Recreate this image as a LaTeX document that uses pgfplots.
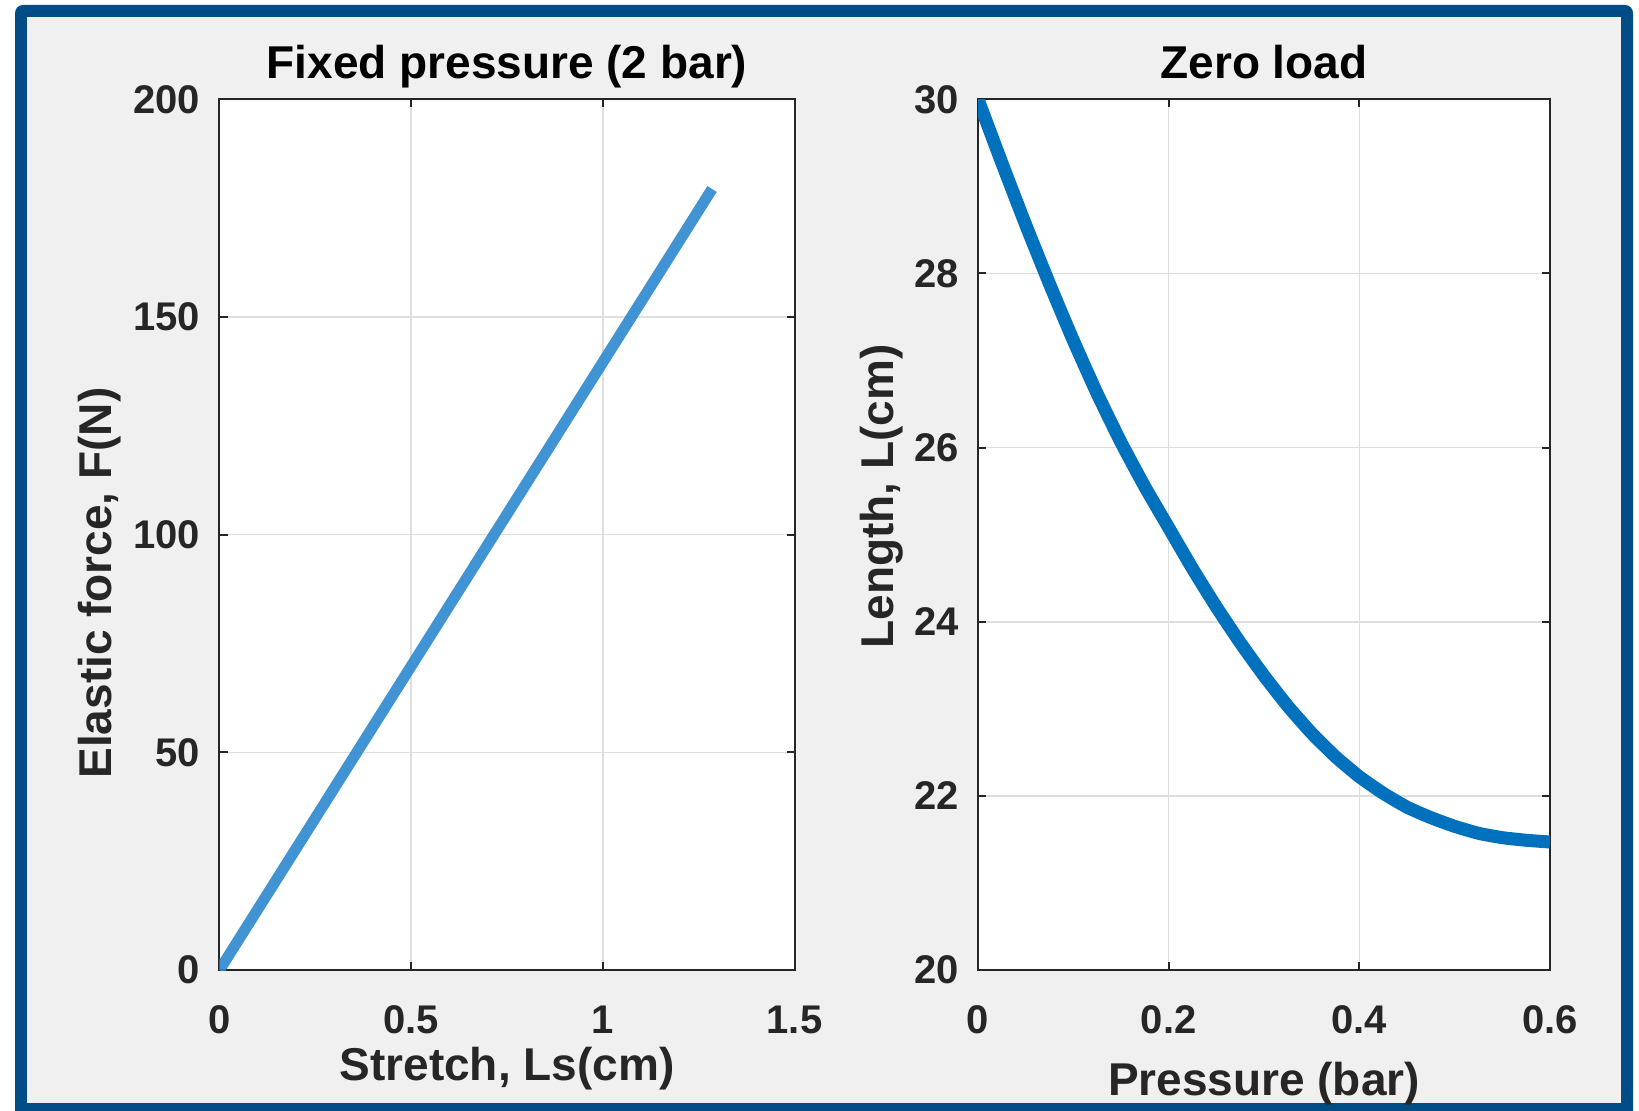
\documentclass[border=0pt]{standalone}
\usepackage{fontspec}
\setmainfont{Liberation Sans}
\usepackage{pgfplots}
\pgfplotsset{compat=1.18}
\definecolor{frameblue}{RGB}{0,76,135}
\definecolor{figgrey}{RGB}{240,240,240}
\definecolor{mblue}{RGB}{0,114,189}
\definecolor{lblue}{RGB}{45,137,207}
\definecolor{axgrey}{RGB}{38,38,38}
\definecolor{gridc}{RGB}{222,222,222}
\pgfplotsset{
  mystyle/.style={
    scale only axis,
    height=435.35pt,
    anchor=south west,
    axis line style={axgrey, line width=1pt},
    tick style={axgrey, line width=1pt},
    major tick length=4pt,
    tick align=inside,
    grid=major,
    major grid style={gridc, line width=0.8pt},
    axis background/.style={fill=white},
    /pgf/number format/assume math mode=true,
    tick label style={font=\fontsize{20}{24}\selectfont\bfseries, text=axgrey, inner sep=0pt},
    xticklabel style={anchor=base, yshift=-31.7pt},
    yticklabel style={anchor=east, xshift=-9.5pt},
    label style={font=\fontsize{23}{27}\selectfont\bfseries, text=axgrey, inner sep=0pt},
    title style={font=\fontsize{23}{27}\selectfont\bfseries, inner sep=0pt, at={(axis description cs:0.5,1)}, anchor=base, yshift=4.5pt},
  }
}
\begin{document}
\begin{tikzpicture}
\useasboundingbox (0,0) rectangle (819.5pt,555pt);
\fill[white] (0,0) rectangle (819.5pt,555pt);
\fill[frameblue, rounded corners=4pt] (7.5pt,-6pt) rectangle (816.5pt,552.5pt);
\fill[figgrey] (13.5pt,3.5pt) rectangle (810.5pt,546.5pt);

\begin{axis}[mystyle,
  at={(109.75pt,70pt)}, width=287.5pt,
  xmin=0, xmax=1.5, ymin=0, ymax=200,
  xtick={0,0.5,1,1.5}, ytick={0,50,100,150,200},
  title={Fixed pressure (2 bar)},
  xlabel={Stretch, Ls(cm)},
  ylabel={Elastic force, F(N)},
  xlabel style={at={(axis description cs:0.5,0)}, anchor=base, yshift=-55pt},
  ylabel style={at={(axis description cs:-0.187,0.4445)}, anchor=base},
]
\addplot[lblue, line width=5.5pt, opacity=0.9] coordinates {
(0,0) (0.25,34.9) (0.5,69.8) (0.75,104.7) (1,139.6) (1.285,179.4)};
\end{axis}

\begin{axis}[mystyle,
  at={(489pt,70pt)}, width=286pt,
  xmin=0, xmax=0.6, ymin=20, ymax=30,
  xtick={0,0.2,0.4,0.6}, ytick={20,22,24,26,28,30},
  title={Zero load},
  xlabel={Pressure (bar)},
  ylabel={Length, L(cm)},
  xlabel style={at={(axis description cs:0.5,0)}, anchor=base, yshift=-62.5pt},
  ylabel style={at={(axis description cs:-0.1474,0.5438)}, anchor=base},
]
\addplot[mblue, line width=6.5pt, line join=round, smooth, tension=0.3] coordinates {
(0,30.00) (0.025,29.27) (0.05,28.56) (0.075,27.88) (0.1,27.23) (0.125,26.62)
(0.15,26.06) (0.175,25.55) (0.2,25.08) (0.225,24.61) (0.25,24.17) (0.275,23.76)
(0.3,23.38) (0.325,23.03) (0.35,22.72) (0.375,22.45) (0.4,22.22) (0.425,22.03)
(0.45,21.87) (0.475,21.75) (0.5,21.65) (0.525,21.57) (0.55,21.52) (0.575,21.49)
(0.6,21.47)};
\end{axis}
\end{tikzpicture}
\end{document}
